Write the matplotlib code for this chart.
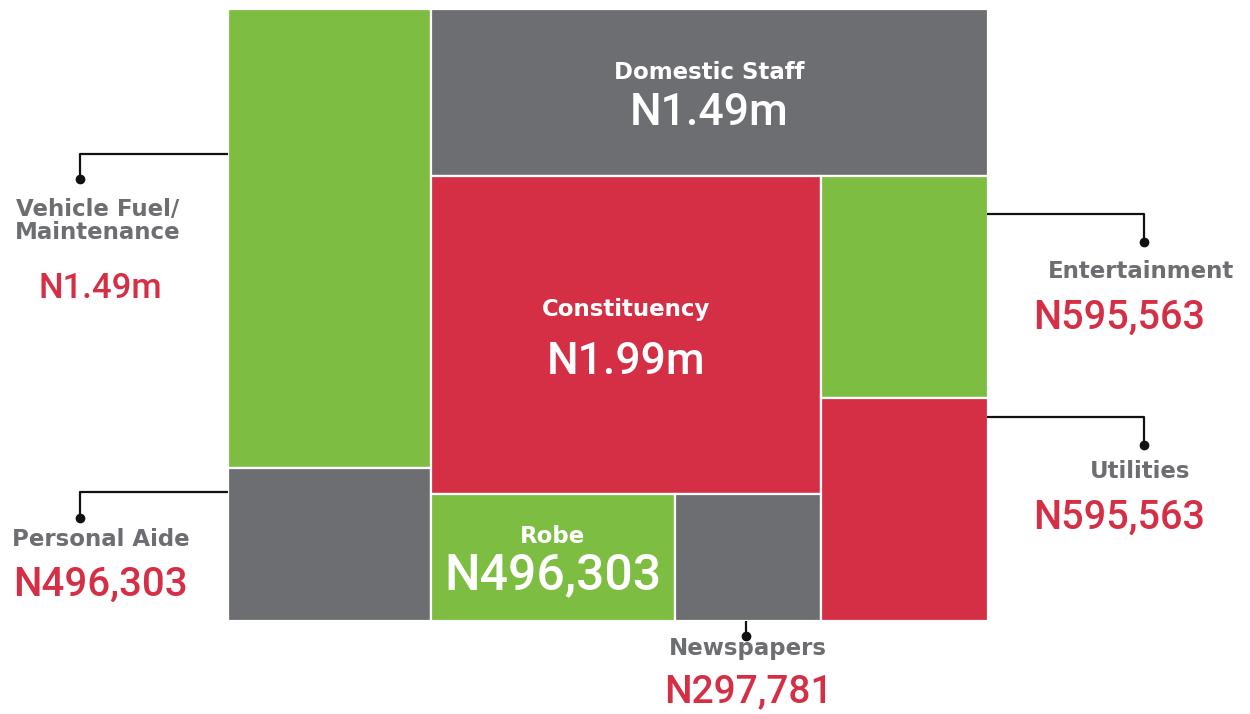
import matplotlib.pyplot as plt
from matplotlib.patches import Rectangle

# data (Naira)
categories = ['Vehicle Fuel/\nMaintenance', 'Personal Aide', 'Domestic Staff', 'Constituency',
              'Robe', 'Newspapers', 'Entertainment', 'Utilities']
amounts = [1490000, 496303, 1490000, 1990000, 496303, 297781, 595563, 595563]
value_labels = ['N1.49m', 'N496,303', 'N1.49m', 'N1.99m', 'N496,303', 'N297,781', 'N595,563', 'N595,563']

GREEN = '#7dbd42'
GREY = '#6d6e71'
RED = '#d52f46'
colors = [GREEN, GREY, GREY, RED, GREEN, GREY, GREEN, RED]

LABEL_FONT = 'DejaVu Sans'
VALUE_FONT = 'Roboto'


def layout(vals, x0, y0, W, H):
    """fixed slice-and-dice arrangement of the eight blocks"""
    veh, pa, dom, con, robe, news, ent, util = vals
    total = sum(vals)
    rects = [None] * 8
    lw = W * (veh + pa) / total
    vh = H * veh / (veh + pa)
    rects[0] = (x0, y0, lw, vh)
    rects[1] = (x0, y0 + vh, lw, H - vh)
    x1, w1 = x0 + lw, W - lw
    rest = total - veh - pa
    dh = H * dom / rest
    rects[2] = (x1, y0, w1, dh)
    y2, h2 = y0 + dh, H - dh
    mid = con + robe + news
    mw = w1 * mid / (rest - dom)
    ch = h2 * con / mid
    rects[3] = (x1, y2, mw, ch)
    rw = mw * robe / (robe + news)
    rects[4] = (x1, y2 + ch, rw, h2 - ch)
    rects[5] = (x1 + rw, y2 + ch, mw - rw, h2 - ch)
    eh = h2 * ent / (ent + util)
    rects[6] = (x1 + mw, y2, w1 - mw, eh)
    rects[7] = (x1 + mw, y2 + eh, w1 - mw, h2 - eh)
    return rects


fig = plt.figure(figsize=(12.5, 7.14), dpi=100)
ax = fig.add_axes([0, 0, 1, 1])
ax.set_xlim(0, 1250)
ax.set_ylim(714, 0)
ax.axis('off')

rects = layout(amounts, 228, 9, 760, 612)
for (x, y, w, h), c in zip(rects, colors):
    ax.add_patch(Rectangle((x, y), w, h, facecolor=c, edgecolor='white', linewidth=1.6))

# labels inside the big blocks: index, value size, offsets
inside = [(2, 32, -20, 21), (3, 32, -25, 27), (4, 36, -21, 18)]
for i, vs, dl, dv in inside:
    x, y, w, h = rects[i]
    cx, cy = x + w / 2, y + h / 2
    ax.text(cx, cy + dl, categories[i], ha='center', va='center', color='white',
            fontsize=16.5, fontweight='bold', family=LABEL_FONT)
    ax.text(cx, cy + dv, value_labels[i], ha='center', va='center', color='white',
            fontsize=vs, fontweight='medium', family=VALUE_FONT)

# callouts outside: index, leader points, label pos, value pos, value size
callouts = [
    (0, [(228, 154), (80, 154), (80, 179)], (98, 221), (100, 288), 25),
    (1, [(228, 492), (80, 492), (80, 518)], (101, 540), (100, 585), 29),
    (6, [(987, 214), (1144, 214), (1144, 242)], (1141, 271), (1119, 318), 28.5),
    (7, [(987, 417), (1144, 417), (1144, 445)], (1140, 471), (1119, 518), 28.5),
    (5, [(746, 621), (746, 636)], (748, 648), (748, 692), 28),
]
for i, pts, lpos, vpos, vs in callouts:
    xs = [p[0] for p in pts]
    ys = [p[1] for p in pts]
    ax.plot(xs, ys, color='#111111', linewidth=1.6, solid_capstyle='butt', zorder=3)
    ax.plot(xs[-1], ys[-1], 'o', color='#111111', markersize=6, zorder=3)
    ax.text(lpos[0], lpos[1], categories[i], ha='center', va='center', color=GREY,
            fontsize=16.5, fontweight='bold', family=LABEL_FONT, linespacing=1.0)
    ax.text(vpos[0], vpos[1], value_labels[i], ha='center', va='center', color=RED,
            fontsize=vs, fontweight='medium', family=VALUE_FONT)

fig.savefig('out.png', dpi=100, facecolor='white')
